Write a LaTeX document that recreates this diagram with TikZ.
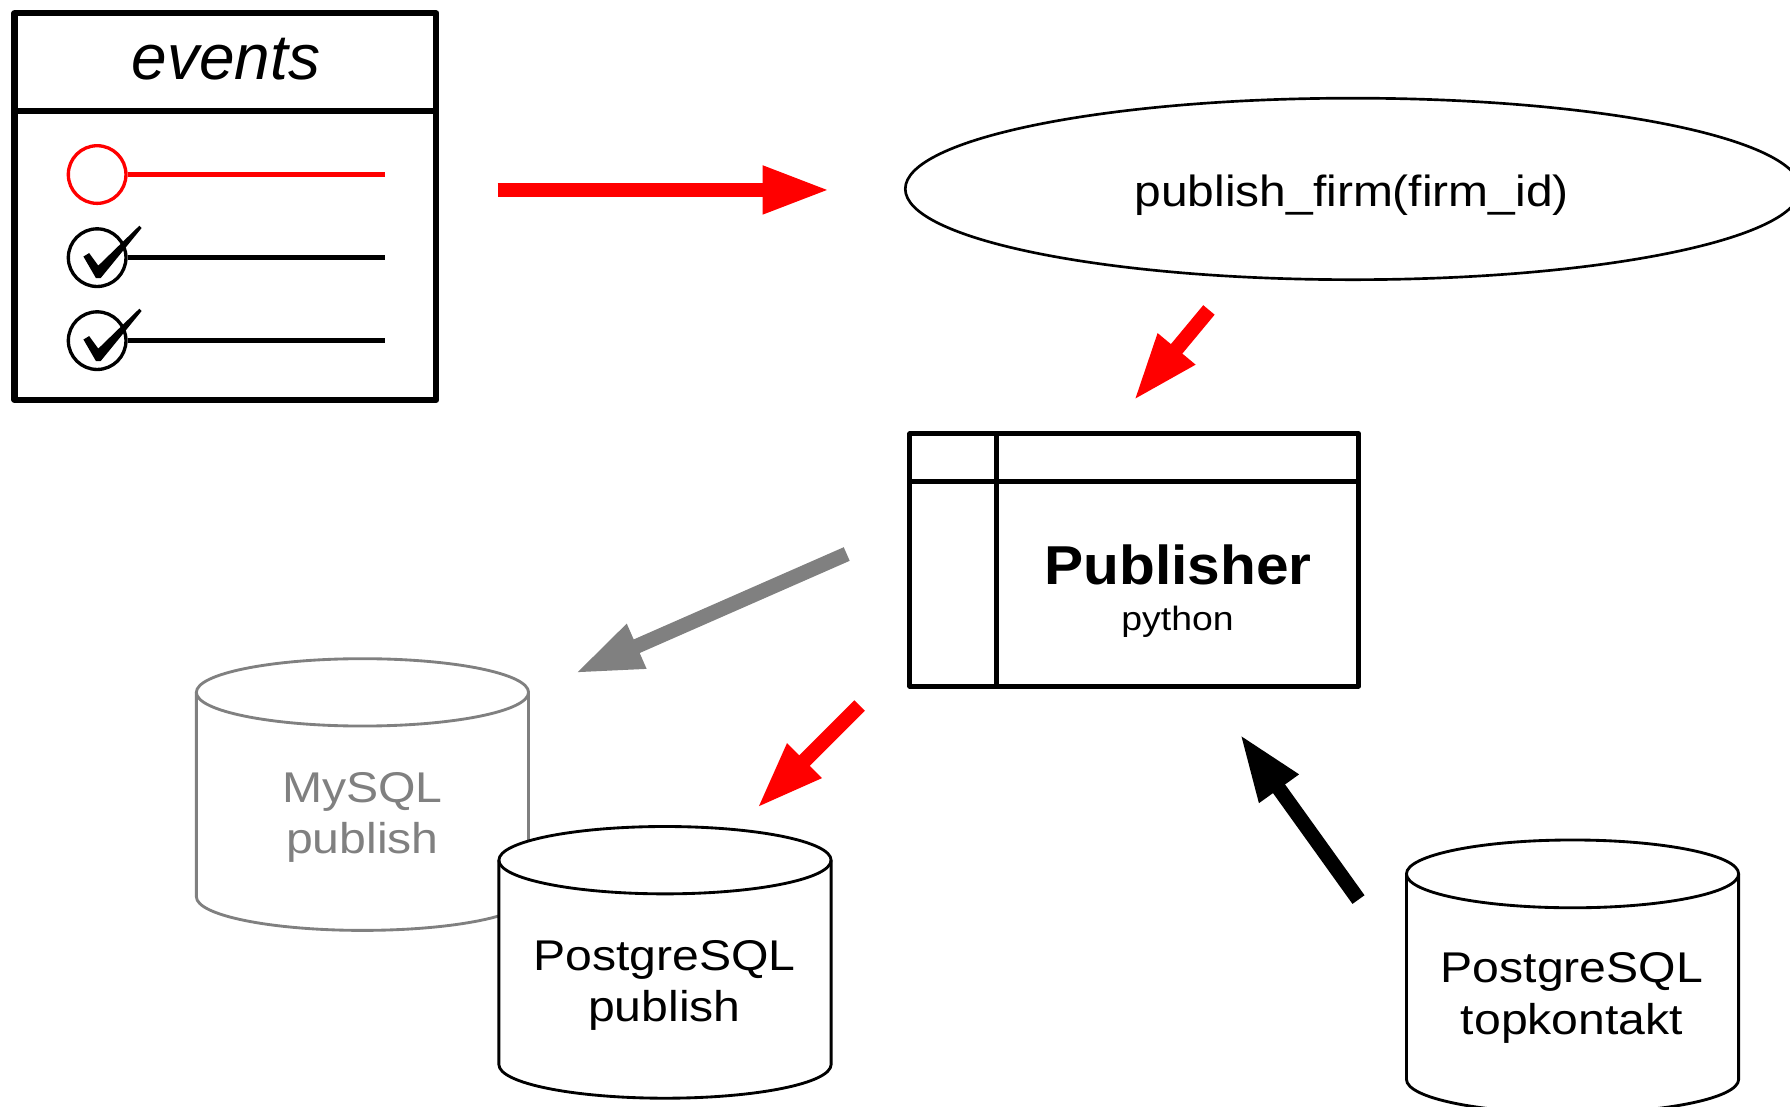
\documentclass[tikz,border=0pt]{standalone}
\usepackage{fontspec}
\usepackage{graphicx}
\setmainfont{Liberation Sans}
\usetikzlibrary{arrows.meta,shapes.geometric}
\definecolor{pred}{HTML}{FF0000}
\definecolor{pgray}{HTML}{808080}
\newcommand\wtxt[2]{\scalebox{#1}[1]{#2}}
% #1 style, #2 left, #3 right, #4 top-cap centre y, #5 bottom centre y, #6 y radius
\newcommand\dbcyl[6]{%
  \pgfmathsetmacro\cylrx{(#3-#2)/2}%
  \draw[#1] (#2,-#4) -- (#2,-#5) arc[start angle=180,end angle=360,x radius=\cylrx,y radius=#6]
     -- (#3,-#4) arc[start angle=0,end angle=180,x radius=\cylrx,y radius=#6] -- cycle;
  \draw[#1,fill=none] (#2,-#4) arc[start angle=180,end angle=360,x radius=\cylrx,y radius=#6];
}
\newcommand\ckmark[2]{%
  \fill[shift={(#1,#2)}] (-12,1) -- (-7,4) -- (1,-7) -- (37,28) -- (39,26) -- (3,-18) -- (-1,-18) -- cycle;
}
\begin{document}
\begin{tikzpicture}[x=0.6pt,y=0.6pt,
  fatarrow/.style={line width=7.8pt,-{Triangle[length=35.4pt,width=23.4pt]}},
  dbtext/.style={font=\fontsize{22.6}{26}\selectfont,anchor=base,inner sep=0pt},
  boxline/.style={line width=3.2pt,line join=round},
  publine/.style={line width=2.6pt,line join=round},
  listcirc/.style={circle,inner sep=0pt,minimum size=30.3pt,line width=1.75pt},
  listline/.style={line width=2.6pt},
  cylblack/.style={draw=black,fill=white,line width=1.5pt},
  cylgray/.style={draw=pgray,fill=white,line width=1.5pt},
]
\useasboundingbox (0,0) rectangle (1568,-969);

% ---------------- events list box
\draw[boxline] (12.7,-11.7) rectangle (382.3,-350.3);
\draw[boxline] (12.7,-97) -- (382.3,-97);
\node[font=\itshape\fontsize{33.6}{40}\selectfont,anchor=base,inner sep=0pt] (evtitle) at (198,-70) {events};

\node[listcirc,draw=pred] (c1) at (85.1,-152.9) {};
\node[listcirc,draw=black] (c2) at (85.1,-225.7) {};
\node[listcirc,draw=black] (c3) at (85.1,-298.4) {};
\coordinate (l1) at (337.2,-152.9);
\coordinate (l2) at (337.2,-225.7);
\coordinate (l3) at (337.2,-298.4);
\draw[listline,pred] (c1.east) -- (l1);
\draw[listline] (c2.east) -- (l2);
\draw[listline] (c3.east) -- (l3);
\ckmark{85.1}{-225.7}
\ckmark{85.1}{-298.4}

% ---------------- publish_firm ellipse
\node[draw,ellipse,line width=1.4pt,minimum width=470.4pt,minimum height=95.4pt,inner sep=0pt] (pfell) at (1185,-165.5) {};
\node[font=\fontsize{22.9}{27}\selectfont,anchor=base,inner sep=0pt] (pftext) at (1184,-181) {\wtxt{1.1}{publish\_firm(firm\_id)}};

% ---------------- Publisher box
\draw[publine] (797,-380) rectangle (1190,-601);
\draw[publine] (797,-422) -- (1190,-422);
\draw[publine] (873,-380) -- (873,-601);
\node[font=\bfseries\fontsize{28.8}{33}\selectfont,anchor=base,inner sep=0pt] (pubname) at (1032,-512) {\wtxt{1.07}{Publisher}};
\node[font=\fontsize{17.7}{21}\selectfont,anchor=base,inner sep=0pt] (pubsub) at (1031.5,-552) {\wtxt{1.11}{python}};

% ---------------- databases
\dbcyl{cylgray}{172}{463}{606.5}{785.5}{29.5}
\node[dbtext,text=pgray] (my1) at (317.5,-703) {\wtxt{1.12}{MySQL}};
\node[dbtext,text=pgray] (my2) at (317.5,-748) {\wtxt{1.12}{publish}};

\dbcyl{cylblack}{437}{728}{753.5}{932.5}{29.5}
\node[dbtext] (pg1) at (582,-850) {\wtxt{1.12}{PostgreSQL}};
\node[dbtext] (pg2) at (582,-895) {\wtxt{1.12}{publish}};

\dbcyl{cylblack}{1232}{1523}{765.5}{945.5}{29.7}
\node[dbtext] (tk1) at (1377,-861) {\wtxt{1.12}{PostgreSQL}};
\node[dbtext] (tk2) at (1377,-906) {\wtxt{1.12}{topkontakt}};

% ---------------- arrows
\coordinate (a1s) at (436,-166.4);   \coordinate (a1e) at (727,-166.4);
\coordinate (a2s) at (1059,-271.5);  \coordinate (a2e) at (993,-351);
\coordinate (a3s) at (753,-618);     \coordinate (a3e) at (663,-708);
\coordinate (a4s) at (741.7,-485.3); \coordinate (a4e) at (503.7,-589.8);
\coordinate (a5s) at (1190,-788);    \coordinate (a5e) at (1086,-643);
\draw[fatarrow,pred] (a1s) -- (a1e);
\draw[fatarrow,pred] (a2s) -- (a2e);
\draw[fatarrow,pred] (a3s) -- (a3e);
\draw[fatarrow,pgray] (a4s) -- (a4e);
\draw[fatarrow,black] (a5s) -- (a5e);
\end{tikzpicture}
\end{document}
